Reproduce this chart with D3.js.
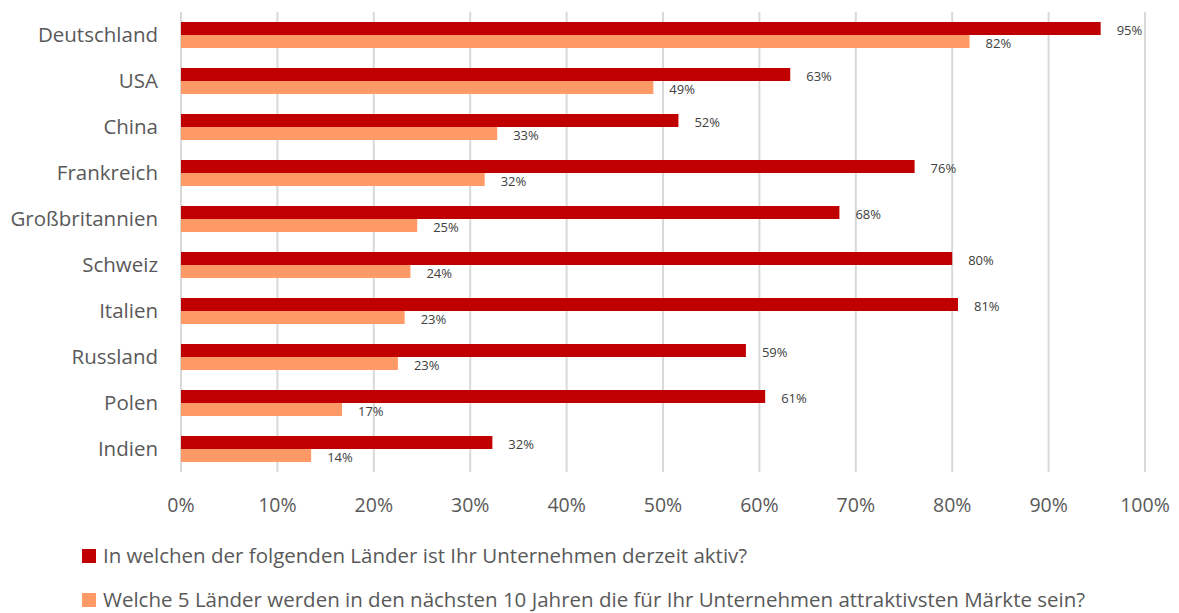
<!DOCTYPE html>
<html>
<head>
<meta charset="utf-8">
<script src="https://cdn.jsdelivr.net/npm/d3@7"></script>
<style>
  body { margin: 0; background: #fff; }
  svg text { font-family: "Open Sans", Lato, sans-serif; fill: #595959; }
</style>
</head>
<body>
<div id="vis"></div>
<script>
// Länder-Umfrage: aktive Märkte vs. attraktivste Märkte

var countries = ['Deutschland', 'USA', 'China', 'Frankreich', 'Großbritannien',
                 'Schweiz', 'Italien', 'Russland', 'Polen', 'Indien'];
var activeNow = [95.4, 63.2, 51.6, 76.1, 68.3, 80.0, 80.6, 58.6, 60.6, 32.3];
var attractive = [81.8, 49.0, 32.8, 31.5, 24.5, 23.8, 23.2, 22.5, 16.7, 13.5];
var xTicks = [0, 10, 20, 30, 40, 50, 60, 70, 80, 90, 100];
var seriesNames = [
  'In welchen der folgenden Länder ist Ihr Unternehmen derzeit aktiv?',
  'Welche 5 Länder werden in den nächsten 10 Jahren die für Ihr Unternehmen attraktivsten Märkte sein?'
];
var seriesColors = ['#C00000', '#FF9A66'];

var W = 1179, H = 613;
var margin = { top: 12, right: 34, bottom: 141, left: 181 };
var width = W - margin.left - margin.right;
var height = H - margin.top - margin.bottom;

var svg = d3.select('#vis').append('svg')
  .attr('width', W)
  .attr('height', H);

var vis = svg.append('g')
  .attr('transform', `translate(${margin.left},${margin.top})`);

var xScale = d3.scaleLinear().domain([0, 100]).range([0, width]);
var yScale = d3.scaleBand().domain(countries).range([0, height]).paddingInner(0.435).paddingOuter(0.2175);
var subScale = d3.scaleBand().domain([0, 1]).range([0, yScale.bandwidth()]);

// vertical gridlines
vis.selectAll('.grid').data(xTicks).join('line')
  .attr('class', 'grid')
  .attr('x1', d => xScale(d)).attr('x2', d => xScale(d))
  .attr('y1', 0).attr('y2', height)
  .attr('stroke', '#d9d9d9')
  .attr('stroke-width', 2);

// x tick labels
vis.selectAll('.xtick').data(xTicks).join('text')
  .attr('class', 'xtick')
  .attr('x', d => xScale(d))
  .attr('y', height + 40)
  .attr('text-anchor', 'middle')
  .style('font-size', '19.5px')
  .text(d => d + '%');

// category labels
vis.selectAll('.ylabel').data(countries).join('text')
  .attr('class', 'ylabel')
  .attr('x', -23)
  .attr('y', d => yScale(d) + yScale.bandwidth() / 2)
  .attr('dy', '0.35em')
  .attr('text-anchor', 'end')
  .style('font-size', '20.5px')
  .text(d => d);

var rows = countries.map((c, i) => ({ country: c, values: [activeNow[i], attractive[i]] }));

var groups = vis.selectAll('.row').data(rows).join('g')
  .attr('class', 'row')
  .attr('transform', d => `translate(0,${yScale(d.country)})`);

groups.selectAll('rect').data(d => d.values.map((v, k) => ({ v: v, k: k }))).join('rect')
  .attr('x', 0)
  .attr('y', d => subScale(d.k))
  .attr('width', d => xScale(d.v))
  .attr('height', subScale.bandwidth())
  .attr('fill', d => seriesColors[d.k]);

groups.selectAll('.dl').data(d => d.values.map((v, k) => ({ v: v, k: k }))).join('text')
  .attr('class', 'dl')
  .attr('x', d => xScale(d.v) + 16)
  .attr('y', d => subScale(d.k) + subScale.bandwidth() / 2 + 2)
  .attr('dy', '0.35em')
  .style('font-size', '13px')
  .style('fill', '#404040')
  .text(d => Math.round(d.v) + '%');

// legend
var legend = svg.append('g').attr('class', 'legend');
var items = legend.selectAll('g').data(seriesNames).join('g')
  .attr('transform', (d, i) => `translate(82,${556 + i * 44})`);
items.append('rect')
  .attr('x', 0).attr('y', -7)
  .attr('width', 14).attr('height', 14)
  .attr('fill', (d, i) => seriesColors[i]);
items.append('text')
  .attr('x', 21).attr('y', 0)
  .attr('dy', '0.35em')
  .style('font-size', '20.5px')
  .text(d => d);
</script>
</body>
</html>
